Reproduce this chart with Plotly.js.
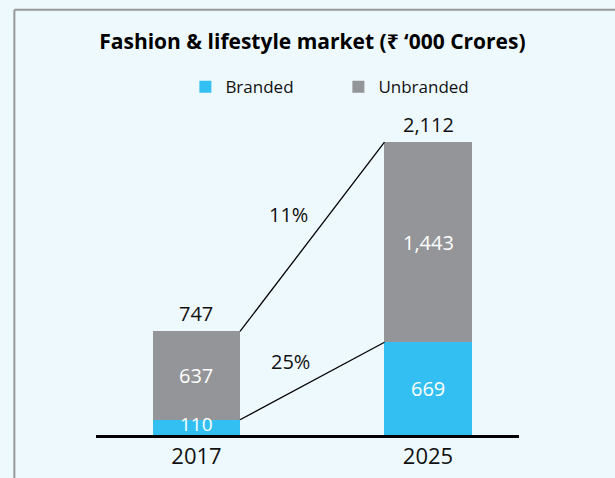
<!DOCTYPE html>
<html>
<head>
<meta charset="utf-8">
<script src="https://cdn.plot.ly/plotly-3.0.1.min.js"></script>
<style>
  html, body { margin: 0; padding: 0; background: #eef9fe; }
  #chart { width: 615px; height: 478px; }
</style>
</head>
<body>
<div id="chart"></div>
<script>
/* ---- data ---- */
var years = ['2017', '2025'];
var branded = [110, 669];
var unbranded = [637, 1443];
var totals = [747, 2112];
var cagrBranded = '25%';
var cagrTotal = '11%';

var BLUE = '#33bff2';
var GREY = '#939598';
var FONT = '"Open Sans", "Noto Sans", sans-serif';
var barWidth = 0.376;
var pos = years.map(function(_, i) { return i; });

function fmt(v) { return v.toLocaleString('en-US'); }

var traces = [
  {
    type: 'bar', name: 'Branded', x: pos, y: branded,
    width: barWidth, marker: { color: BLUE }, hoverinfo: 'skip'
  },
  {
    type: 'bar', name: 'Unbranded', x: pos, y: unbranded,
    width: barWidth, marker: { color: GREY }, hoverinfo: 'skip'
  },
  // connector lines between bar edges
  {
    type: 'scatter', mode: 'lines', showlegend: false, hoverinfo: 'skip',
    x: [barWidth / 2, 1 - barWidth / 2], y: [totals[0], totals[1]],
    line: { color: '#000', width: 1.3 }
  },
  {
    type: 'scatter', mode: 'lines', showlegend: false, hoverinfo: 'skip',
    x: [barWidth / 2, 1 - barWidth / 2], y: [branded[0], branded[1]],
    line: { color: '#000', width: 1.3 }
  }
];

var annotations = [];
pos.forEach(function(p, i) {
  // total above bar
  annotations.push({
    x: p, y: totals[i], text: fmt(totals[i]), showarrow: false,
    yanchor: 'bottom', yshift: 2, font: { family: FONT, size: 20, color: '#111' }
  });
  // segment labels
  annotations.push({
    x: p, y: unbranded[i] / 2 + branded[i], text: fmt(unbranded[i]), showarrow: false,
    font: { family: FONT, size: 20, color: '#fff' }
  });
  // thin segment: sit the label on the baseline instead of centring it
  var thin = branded[i] < 200;
  annotations.push({
    x: p, y: thin ? 0 : branded[i] / 2, text: fmt(branded[i]), showarrow: false,
    yanchor: thin ? 'bottom' : 'middle', yshift: thin ? -4 : 0,
    font: { family: FONT, size: thin ? 19 : 20, color: '#fff' }
  });
});
// CAGR labels
annotations.push({
  x: 0.5, y: (totals[0] + totals[1]) / 2, text: cagrTotal, showarrow: false,
  xshift: -24, yshift: 22, font: { family: FONT, size: 20, color: '#111' }
});
annotations.push({
  x: 0.5, y: (branded[0] + branded[1]) / 2, text: cagrBranded, showarrow: false,
  xshift: -22, yshift: 20, font: { family: FONT, size: 20, color: '#111' }
});

var layout = {
  width: 615, height: 478,
  paper_bgcolor: '#eef9fe', plot_bgcolor: '#eef9fe',
  margin: { l: 96, r: 96, t: 130, b: 43 },
  barmode: 'stack',
  font: { family: FONT, color: '#111' },
  title: {
    text: '<b>Fashion &amp; lifestyle market (₹ ‘000 Crores)</b>',
    x: 0.508, xanchor: 'center', y: 0.912, yanchor: 'middle',
    font: { family: FONT, size: 21, color: '#000' }
  },
  showlegend: true,
  legend: {
    orientation: 'h', x: 0.573, xanchor: 'center', y: 1.14, yanchor: 'middle',
    font: { family: FONT, size: 17, color: '#111' },
    bgcolor: 'rgba(0,0,0,0)', itemclick: false, traceorder: 'normal',
    entrywidth: 108
  },
  xaxis: {
    range: [-0.434, 1.393], tickvals: pos, ticktext: years,
    showgrid: false, zeroline: false, showline: true, linecolor: '#000', linewidth: 2.5,
    ticks: '', ticklabelstandoff: 0, tickfont: { family: FONT, size: 22, color: '#111' }
  },
  yaxis: {
    range: [0, 2200], visible: false, showgrid: false, zeroline: false
  },
  annotations: annotations,
  shapes: [
    // outer frame (top and left edges)
    { type: 'line', xref: 'paper', yref: 'paper', x0: -0.193, x1: 1.3, y0: 1.394, y1: 1.394,
      line: { color: '#999', width: 2 } },
    { type: 'line', xref: 'paper', yref: 'paper', x0: -0.193, x1: -0.193, y0: 1.394, y1: -0.2,
      line: { color: '#999', width: 2 } }
  ]
};

Plotly.newPlot('chart', traces, layout, { displayModeBar: false, staticPlot: true });
</script>
</body>
</html>
